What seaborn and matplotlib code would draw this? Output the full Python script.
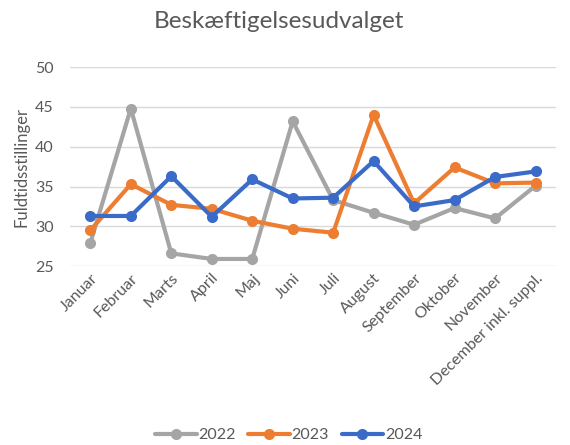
import pandas as pd
import numpy as np
import matplotlib
matplotlib.use("Agg")
import matplotlib.pyplot as plt
import seaborn as sns

months = ['Januar', 'Februar', 'Marts', 'April', 'Maj', 'Juni', 'Juli',
          'August', 'September', 'Oktober', 'November', 'December inkl. suppl.']
v2022 = [27.9, 44.8, 26.6, 25.9, 25.9, 43.2, 33.3, 31.7, 30.2, 32.3, 31.0, 35.1]
v2023 = [29.5, 35.3, 32.7, 32.2, 30.7, 29.7, 29.2, 44.0, 32.9, 37.4, 35.4, 35.5]
v2024 = [31.3, 31.3, 36.3, 31.2, 35.9, 33.5, 33.6, 38.2, 32.5, 33.3, 36.2, 36.9]

df = pd.DataFrame({
    'month': months * 3,
    'value': v2022 + v2023 + v2024,
    'year': ['2022'] * 12 + ['2023'] * 12 + ['2024'] * 12,
})

sns.set_style("white")
plt.rcParams['font.family'] = ['Lato', 'DejaVu Sans']
txt = '#595959'

fig = plt.figure(figsize=(5.7, 4.45), dpi=100)
ax = fig.add_axes([0.123, 0.402, 0.852, 0.447])

palette = {'2022': '#A5A5A5', '2023': '#ED7D31', '2024': '#3A6BC8'}
sns.lineplot(data=df, x='month', y='value', hue='year', palette=palette,
             marker='o', markersize=8, markeredgewidth=0, linewidth=3,
             sort=False, ax=ax)

ax.set_ylim(25, 50)
ax.set_yticks(np.arange(25, 51, 5))
ax.set_xlim(-0.5, 11.5)
ax.grid(axis='y', color='#D9D9D9', linewidth=1)
ax.set_axisbelow(True)
for s in ax.spines.values():
    s.set_visible(False)
ax.tick_params(length=0, colors=txt, labelsize=11.5)
ax.tick_params(axis='y', pad=12)
plt.setp(ax.get_xticklabels(), rotation=45, ha='right', rotation_mode='anchor')
ax.set_xlabel('')
ax.set_ylabel('Fuldtidsstillinger', color=txt, fontsize=12, labelpad=4)
fig.suptitle('Beskæftigelsesudvalget', x=0.49, y=0.975, fontsize=17.5, color=txt)

handles, labels = ax.get_legend_handles_labels()
ax.legend(handles, labels, loc='center', bbox_to_anchor=(0.45, -0.85), ncol=3,
          frameon=False, fontsize=11.5, labelcolor=txt, handlelength=2.6,
          columnspacing=0.8, handletextpad=0.1)

fig.savefig('out.png', dpi=100)
